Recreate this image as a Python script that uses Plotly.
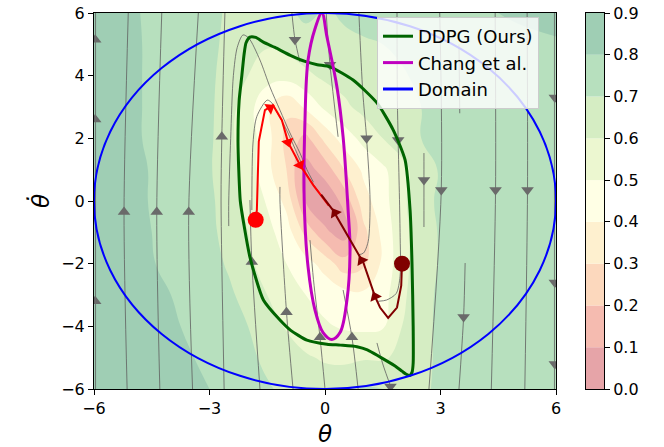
import math
import plotly.graph_objects as go

# ---------------- value field (rows from top, theta_dot = 6 ... -6) ----------------
THETA_GRID = [-6, -5, -4, -3, -2.5, -2, -1.5, -1, -0.5, 0, 0.5, 1, 1.5, 2, 2.5, 3, 4, 5, 6]
THETADOT_ROWS = [6, 5, 4, 3, 2, 1, 0, -1, -2, -3, -4, -5, -6]
VALUE_ROWS = [
    [0.86, 0.81, 0.76, 0.72, 0.69, 0.66, 0.65, 0.68, 0.72, 0.69, 0.71, 0.73, 0.74, 0.75, 0.76, 0.77, 0.79, 0.81, 0.83],
    [0.86, 0.81, 0.77, 0.72, 0.68, 0.63, 0.61, 0.63, 0.66, 0.67, 0.685, 0.69, 0.70, 0.71, 0.73, 0.75, 0.76, 0.78, 0.79],
    [0.86, 0.81, 0.77, 0.72, 0.66, 0.60, 0.54, 0.54, 0.58, 0.62, 0.64, 0.66, 0.68, 0.695, 0.71, 0.73, 0.75, 0.76, 0.77],
    [0.86, 0.81, 0.77, 0.72, 0.64, 0.54, 0.42, 0.32, 0.42, 0.52, 0.58, 0.63, 0.66, 0.68, 0.70, 0.72, 0.74, 0.75, 0.76],
    [0.86, 0.81, 0.77, 0.72, 0.62, 0.55, 0.44, 0.27, 0.17, 0.33, 0.45, 0.53, 0.60, 0.65, 0.70, 0.72, 0.74, 0.75, 0.76],
    [0.86, 0.82, 0.77, 0.71, 0.64, 0.56, 0.43, 0.30, 0.06, 0.14, 0.30, 0.42, 0.48, 0.57, 0.65, 0.71, 0.73, 0.75, 0.76],
    [0.86, 0.82, 0.77, 0.72, 0.65, 0.57, 0.49, 0.37, 0.09, 0.02, 0.13, 0.36, 0.46, 0.58, 0.66, 0.72, 0.74, 0.75, 0.76],
    [0.86, 0.82, 0.78, 0.72, 0.67, 0.60, 0.53, 0.45, 0.27, 0.12, 0.05, 0.27, 0.43, 0.57, 0.65, 0.71, 0.73, 0.75, 0.76],
    [0.87, 0.83, 0.78, 0.73, 0.69, 0.62, 0.56, 0.50, 0.44, 0.36, 0.24, 0.28, 0.42, 0.57, 0.65, 0.71, 0.73, 0.75, 0.76],
    [0.87, 0.84, 0.80, 0.75, 0.715, 0.67, 0.60, 0.55, 0.50, 0.47, 0.44, 0.42, 0.46, 0.58, 0.66, 0.72, 0.74, 0.75, 0.76],
    [0.88, 0.85, 0.81, 0.77, 0.74, 0.70, 0.65, 0.59, 0.55, 0.51, 0.49, 0.48, 0.49, 0.60, 0.67, 0.72, 0.74, 0.75, 0.76],
    [0.88, 0.86, 0.83, 0.78, 0.75, 0.72, 0.68, 0.65, 0.61, 0.59, 0.58, 0.59, 0.59, 0.62, 0.67, 0.72, 0.74, 0.75, 0.76],
    [0.88, 0.86, 0.84, 0.80, 0.77, 0.74, 0.71, 0.68, 0.66, 0.65, 0.67, 0.71, 0.70, 0.66, 0.68, 0.72, 0.74, 0.75, 0.76],
]

LEVELS = [0.0, 0.1, 0.2, 0.3, 0.4, 0.5, 0.6, 0.7, 0.8, 0.9]
LEVEL_LABELS = ["0.0", "0.1", "0.2", "0.3", "0.4", "0.5", "0.6", "0.7", "0.8", "0.9"]
BAND_COLORS = ["#e6a4a8", "#f5bbb0", "#fcd8bd", "#fef0cf", "#ffffe5",
               "#ecf7d0", "#d5edc3", "#b7e0be", "#9fceb4"]

# ---------------- streamlines of the closed-loop vector field ----------------
STREAM_LINES = [
    ([-5.96, -5.96], [-6, 6]),
    ([-5.14, -5.22, -5.11], [-6, -0.35, 6]),
    ([-4.29, -4.37, -4.24], [-6, -0.35, 6]),
    ([-3.44, -3.54, -3.29], [-6, -0.35, 6]),
    ([-2.62, -2.70, -2.68, -2.60], [-6, 0, 2.05, 6]),
    ([-1.69, -1.90, -1.95], [-6, -1.95, 0.03]),
    ([-2.50, -2.50, -2.45, -2.38, -2.28, -2.13, -1.98, -1.69, -1.43, -1.17, -0.91, -0.65, -0.47, -0.30],
     [-0.8, 0.0, 2.0, 4.0, 4.9, 5.3, 5.2, 4.5, 3.64, 2.9, 2.17, 1.53, 1.0, 0.6]),
    ([-1.90, -1.87, -1.77, -1.50, -1.38, -1.30, -1.00, -0.65, -0.44, -0.13],
     [-0.29, 1.85, 2.7, 3.22, 3.13, 2.95, 2.27, 1.31, 0.77, 0.25]),
    ([-0.83, -1.00, -1.17, -1.17], [-6, -3.55, 0.0, 0.45]),
    ([0.0, -0.13, -0.30, -0.39], [-6, -4.35, -2.5, -1.25]),
    ([0.86, 0.70, 0.47], [-6, -4.35, -2.84]),
    ([1.35, 1.50, 1.73], [-4.53, -5.2, -6]),
    ([1.87, 1.88, 1.90, 1.95, 1.95, 1.85, 1.60, 1.38], [6, 3.2, 1.95, -1.0, -2.4, -2.95, -3.16, -3.2]),
    ([0.88, 0.98, 1.08, 1.17, 1.12, 1.00, 0.86], [6, 3.5, 2.0, 0.0, -1.3, -1.66, -1.72]),
    ([0.03, 0.13, 0.34], [6, 4.35, 2.05]),
    ([-0.86, -0.78, -0.65], [6, 5.15, 4.44]),
    ([2.57, 2.57, 2.57], [1.53, 0.67, -0.83]),
    ([2.98, 3.02, 2.70], [6, 0.35, -6]),
    ([4.42, 4.43, 4.32], [6, 0.35, -6]),
    ([5.25, 5.26, 5.19], [6, 0.35, -6]),
    ([5.96, 5.96], [6, -6]),
    ([3.64, 3.60, 3.48], [-1.98, -3.7, -6]),
    ([3.48, 3.50], [5.0, 2.8]),
]
ARROWS_UP_THETA = [-5.97, -5.97, -5.97, -5.22, -4.37, -3.54, -2.68, -1.90, -1.00, -0.13, 0.70]
ARROWS_UP_THETADOT = [5.15, 2.6, -3.2, -0.35, -0.35, -0.35, 2.05, -1.95, -3.55, -4.35, -4.35]
ARROWS_DOWN_THETA = [-0.78, 0.13, 1.08, 1.90, 2.57, 3.02, 4.43, 5.26, 3.60, 1.70, 5.97, 5.97, 5.97]
ARROWS_DOWN_THETADOT = [5.15, 4.35, 2.0, 1.95, 0.67, 0.35, 0.35, 0.35, -3.7, -5.92, 3.3, -2.6, -5.2]

# ---------------- region of attraction estimates ----------------
DDPG_THETA = [-2.20, -2.24, -2.26, -2.23, -2.16, -2.10, -2.05, -1.95, -1.80, -1.60, -1.30, -0.90, -0.50,
              -0.20, 0.13, 0.73, 1.35, 1.77, 2.08, 2.21, 2.26, 2.29, 2.29, 2.26, 2.20, 2.10, 2.00,
              1.80, 1.43, 1.10, 0.83, 0.40, 0.05, -0.47, -0.90, -1.17, -1.60, -1.95, -2.10, -2.20]
DDPG_THETADOT = [0.0, 1.0, 1.9, 3.2, 4.0, 4.7, 5.05, 5.23, 5.22, 5.07, 4.9, 4.65, 4.45,
                 4.35, 4.28, 3.86, 3.13, 2.27, 1.31, -0.29, -2.0, -4.0, -5.17, -5.47, -5.57, -5.52, -5.43,
                 -5.25, -4.98, -4.75, -4.65, -4.6, -4.57, -4.44, -4.12, -3.8, -3.16, -1.79, -0.8, 0.0]

CHANG_THETA = [-0.54, -0.52, -0.44, -0.26, -0.08, 0.05, 0.31, 0.47, 0.60, 0.65, 0.57, 0.39, 0.18,
               -0.05, -0.26, -0.44, -0.54]
CHANG_THETADOT = [0.0, 2.58, 4.5, 5.5, 6.0, 5.24, 3.64, 2.05, -0.29, -1.56, -3.16, -4.2, -4.42,
                  -4.2, -3.48, -2.1, 0.0]

DOMAIN_RADIUS = 6

# ---------------- closed-loop trajectories ----------------
TRAJ_A_THETA = [-1.80, -1.77, -1.72, -1.56, -1.35, -1.12, -0.96, -0.65, -0.30, 0.10]
TRAJ_A_THETADOT = [-0.60, -0.29, 1.90, 2.90, 3.06, 2.58, 1.88, 1.15, 0.50, -0.15]
TRAJ_A_ARROWS = [(-1.43, 2.97), (-0.96, 1.88), (-0.65, 1.15)]

TRAJ_B_THETA = [2.00, 1.98, 1.87, 1.64, 1.43, 1.30, 1.00, 0.21, -0.10]
TRAJ_B_THETADOT = [-2.00, -2.70, -3.40, -3.73, -3.40, -3.05, -1.98, -0.30, 0.20]
TRAJ_B_ARROWS = [(1.30, -3.05), (0.95, -1.90), (0.26, -0.38)]

# ---------------- layout geometry ----------------
FIG_W, FIG_H = 664, 447
M_L, M_R, M_T, M_B = 94, 60, 13, 58
PLOT_W = 556 - 94
PLOT_H = 389 - 13
PAPER_W = FIG_W - M_L - M_R
PX_PER_X = PLOT_W / 12.0
PX_PER_Y = PLOT_H / 12.0
FONT = "DejaVu Sans"


def screen_angle(dx, dy):
    """Clockwise rotation (deg) that turns an upward triangle along (dx, dy)."""
    return math.degrees(math.atan2(dx * PX_PER_X, dy * PX_PER_Y))


def heading_on_path(xs, ys, px, py):
    best, best_d = (0.0, 1.0), float("inf")
    for i in range(len(xs) - 1):
        x0, y0, x1, y1 = xs[i], ys[i], xs[i + 1], ys[i + 1]
        vx, vy = x1 - x0, y1 - y0
        L2 = vx * vx + vy * vy or 1e-9
        t = max(0.0, min(1.0, ((px - x0) * vx + (py - y0) * vy) / L2))
        d = (x0 + t * vx - px) ** 2 + (y0 + t * vy - py) ** 2
        if d < best_d:
            best_d, best = d, (vx, vy)
    return screen_angle(*best)


fig = go.Figure()

# value field as filled contour bands
n_bands = len(BAND_COLORS)
colorscale = [[i / (n_bands - 1), c] for i, c in enumerate(BAND_COLORS)]
fig.add_trace(go.Contour(
    x=THETA_GRID,
    y=THETADOT_ROWS[::-1],
    z=VALUE_ROWS[::-1],
    autocontour=False,
    contours=dict(start=LEVELS[1], end=LEVELS[-2], size=LEVELS[1] - LEVELS[0],
                  coloring="fill", showlines=False),
    colorscale=colorscale,
    line=dict(width=0, smoothing=1.3),
    showscale=False,
    hoverinfo="skip",
    showlegend=False,
))

# streamlines
for sx, sy in STREAM_LINES:
    fig.add_trace(go.Scatter(
        x=sx, y=sy, mode="lines",
        line=dict(color="rgba(95,95,95,0.8)", width=1, shape="spline", smoothing=0.8),
        hoverinfo="skip", showlegend=False,
    ))
fig.add_trace(go.Scatter(
    x=ARROWS_UP_THETA, y=ARROWS_UP_THETADOT, mode="markers",
    marker=dict(symbol="triangle-up", size=11, color="#6a6a6a", line=dict(width=0)),
    hoverinfo="skip", showlegend=False,
))
fig.add_trace(go.Scatter(
    x=ARROWS_DOWN_THETA, y=ARROWS_DOWN_THETADOT, mode="markers",
    marker=dict(symbol="triangle-down", size=11, color="#6a6a6a", line=dict(width=0)),
    hoverinfo="skip", showlegend=False,
))

# DDPG region, Chang et al. region, domain (legend entry)
fig.add_trace(go.Scatter(
    x=DDPG_THETA, y=DDPG_THETADOT, mode="lines", name="DDPG (Ours)",
    line=dict(color="#006400", width=3, shape="spline", smoothing=0.6),
))
fig.add_trace(go.Scatter(
    x=CHANG_THETA, y=CHANG_THETADOT, mode="lines", name="Chang et al.",
    line=dict(color="#bf00bf", width=3, shape="spline", smoothing=1.0),
))
fig.add_trace(go.Scatter(
    x=[None], y=[None], mode="lines", name="Domain",
    line=dict(color="#0000ff", width=3),
))
fig.add_shape(type="circle", xref="x", yref="y",
              x0=-DOMAIN_RADIUS, x1=DOMAIN_RADIUS, y0=-DOMAIN_RADIUS, y1=DOMAIN_RADIUS,
              line=dict(color="#0000ff", width=2), layer="above")

# trajectories
for xs, ys, arrows, col in [(TRAJ_A_THETA, TRAJ_A_THETADOT, TRAJ_A_ARROWS, "#ff0000"),
                            (TRAJ_B_THETA, TRAJ_B_THETADOT, TRAJ_B_ARROWS, "#800000")]:
    fig.add_trace(go.Scatter(
        x=xs, y=ys, mode="lines", line=dict(color=col, width=2),
        hoverinfo="skip", showlegend=False,
    ))
    fig.add_trace(go.Scatter(
        x=[a[0] for a in arrows], y=[a[1] for a in arrows], mode="markers",
        marker=dict(symbol="triangle-up", size=11, color=col,
                    angle=[heading_on_path(xs, ys, a[0], a[1]) for a in arrows]),
        hoverinfo="skip", showlegend=False,
    ))
    fig.add_trace(go.Scatter(
        x=[xs[0]], y=[ys[0]], mode="markers",
        marker=dict(symbol="circle", size=16, color=col),
        hoverinfo="skip", showlegend=False,
    ))

# colour bar drawn as stacked bands on its own axes
fig.add_trace(go.Bar(
    x=[0] * n_bands,
    y=[LEVELS[i + 1] - LEVELS[i] for i in range(n_bands)],
    base=LEVELS[:-1],
    width=1,
    marker=dict(color=BAND_COLORS, line=dict(width=0)),
    xaxis="x2", yaxis="y2",
    hoverinfo="skip", showlegend=False,
))

axis_common = dict(showline=True, linecolor="black", linewidth=1, mirror=True,
                   ticks="outside", ticklen=5, tickwidth=1, tickcolor="black",
                   showgrid=False, zeroline=False, automargin=False,
                   tickfont=dict(family=FONT, size=16, color="black"))

fig.update_layout(
    width=FIG_W, height=FIG_H,
    margin=dict(l=M_L, r=M_R, t=M_T, b=M_B, pad=0, autoexpand=False),
    paper_bgcolor="white", plot_bgcolor="white",
    font=dict(family=FONT, size=16, color="black"),
    xaxis=dict(range=[-6, 6], tickvals=[-6, -3, 0, 3, 6], domain=[0, PLOT_W / PAPER_W],
               title=dict(text="<i>θ</i>", font=dict(family=FONT, size=23), standoff=10),
               **axis_common),
    yaxis=dict(range=[-6, 6], tickvals=[-6, -4, -2, 0, 2, 4, 6], domain=[0, 1],
               title=dict(text="<i>θ̇</i>", font=dict(family=FONT, size=23), standoff=5),
               **axis_common),
    xaxis2=dict(domain=[(586 - M_L) / PAPER_W, 1.0], range=[-0.5, 0.5], anchor="y2",
                showline=True, linecolor="black", linewidth=1, mirror=True,
                showticklabels=False, ticks="", showgrid=False, zeroline=False, fixedrange=True),
    yaxis2=dict(domain=[0, 1], range=[LEVELS[0], LEVELS[-1]], anchor="x2", side="right",
                tickvals=LEVELS, ticktext=LEVEL_LABELS,
                showline=True, linecolor="black", linewidth=1, mirror=True,
                ticks="outside", ticklen=5, tickcolor="black", showgrid=False, zeroline=False,
                automargin=False,
                tickfont=dict(family=FONT, size=16, color="black")),
    legend=dict(x=(377 - M_L) / PAPER_W, y=(389 - 17) / PLOT_H, xanchor="left", yanchor="top",
                bgcolor="rgba(255,255,255,0.8)", bordercolor="#cccccc", borderwidth=1,
                font=dict(family=FONT, size=18, color="black"), tracegroupgap=0),
    showlegend=True,
)

fig.write_html("out.html")
